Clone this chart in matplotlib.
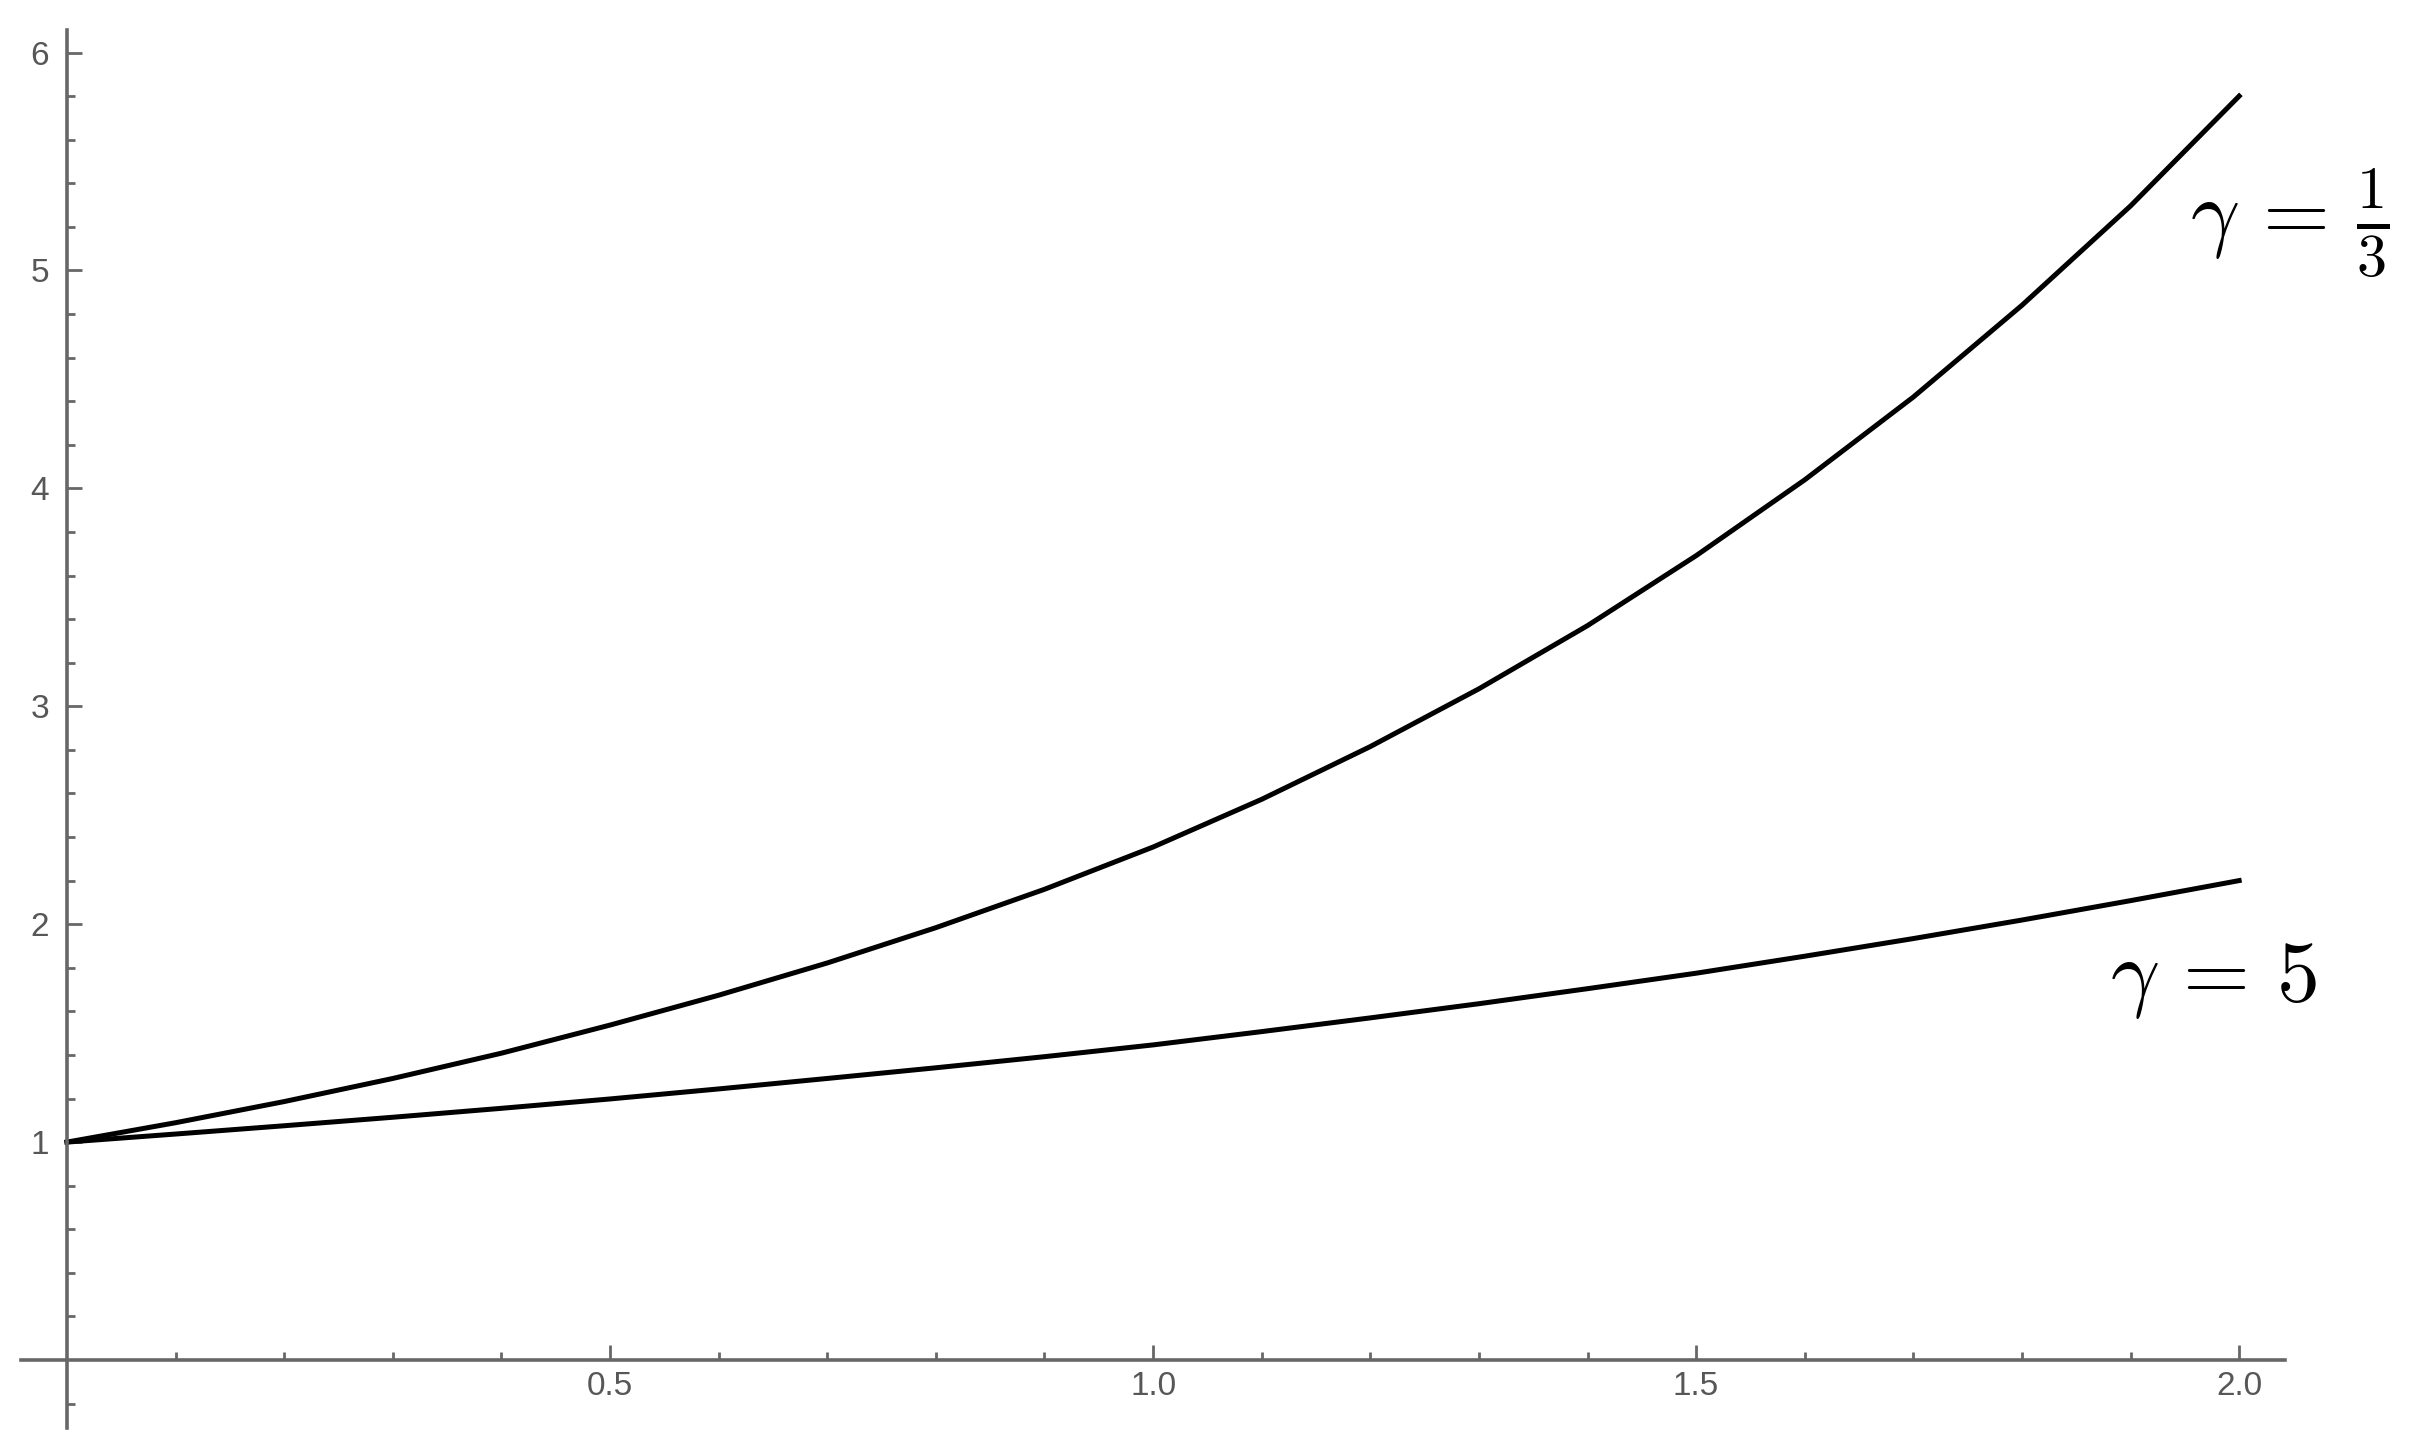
import numpy as np
import matplotlib
matplotlib.use('Agg')
import matplotlib.pyplot as plt

# values
x_vals = [0.0, 0.1, 0.2, 0.3, 0.4, 0.5, 0.6, 0.7, 0.8, 0.9, 1.0,
          1.1, 1.2, 1.3, 1.4, 1.5, 1.6, 1.7, 1.8, 1.9, 2.0]
gamma_third = [1.000, 1.089, 1.186, 1.292, 1.408, 1.537, 1.674, 1.822, 1.984, 2.160, 2.354,
               2.573, 2.815, 3.080, 3.370, 3.691, 4.039, 4.419, 4.840, 5.296, 5.800]
gamma_five = [1.000, 1.037, 1.075, 1.114, 1.155, 1.198, 1.244, 1.292, 1.341, 1.392, 1.446,
              1.507, 1.570, 1.635, 1.704, 1.775, 1.853, 1.934, 2.019, 2.108, 2.200]

x_major = [0.5, 1.0, 1.5, 2.0]
x_labels = ['0.5', '1.0', '1.5', '2.0']
y_major = [1, 2, 3, 4, 5, 6]
y_labels = ['1', '2', '3', '4', '5', '6']

plt.rcParams['mathtext.fontset'] = 'cm'

fig = plt.figure(figsize=(24.14, 14.45), dpi=100)
ax = fig.add_axes([0, 0, 1, 1])
ax.set_facecolor('white')

ax.plot(x_vals, gamma_third, color='black', linewidth=3.6)
ax.plot(x_vals, gamma_five, color='black', linewidth=3.6)

ax.set_xlim(-0.0617, 2.161)
ax.set_ylim(-0.390, 6.241)

axcol = '#676767'
for s in ['top', 'right']:
    ax.spines[s].set_visible(False)
ax.spines['left'].set_position(('data', 0))
ax.spines['bottom'].set_position(('data', 0))
ax.spines['left'].set_bounds(-0.31, 6.105)
ax.spines['bottom'].set_bounds(-0.042, 2.042)
for s in ['left', 'bottom']:
    ax.spines[s].set_color(axcol)
    ax.spines[s].set_linewidth(2.6)

ax.set_xticks(x_major)
ax.set_xticklabels(x_labels)
ax.set_xticks([round(0.1 * i, 1) for i in range(1, 21) if i % 5 != 0], minor=True)
ax.set_yticks(y_major)
ax.set_yticklabels(y_labels)
ax.set_yticks([round(-0.2 + 0.2 * i, 1) for i in range(32) if (i - 1) % 5 != 0], minor=True)

ax.tick_params(which='both', direction='in', color=axcol, width=2.0,
               labelcolor='#575757', labelsize=24)
ax.tick_params(which='major', length=11)
ax.tick_params(which='minor', length=6)
ax.tick_params(axis='y', pad=13)
ax.tick_params(axis='x', pad=8)
for lab in ax.get_xticklabels() + ax.get_yticklabels():
    lab.set_family(['Liberation Sans', 'DejaVu Sans'])

ax.text(1.955, 5.22, r'$\gamma\,=\,\frac{1}{3}$', fontsize=62, ha='left', va='center')
ax.text(1.881, 1.745, r'$\gamma\,=\,5$', fontsize=62, ha='left', va='center')

fig.savefig('out.png', dpi=100, facecolor='white')
